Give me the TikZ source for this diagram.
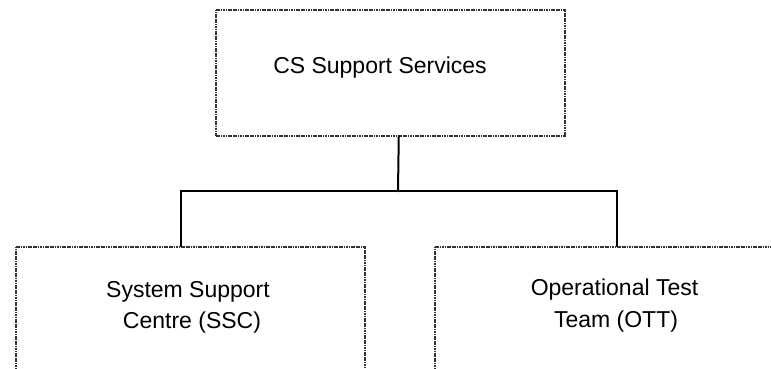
\documentclass[tikz,border=0pt]{standalone}
\usepackage{fontspec}
\setmainfont{Liberation Sans}
\usetikzlibrary{calc}

\tikzset{
  unitbox/.style={draw=black!80, line width=1.5bp, dash pattern=on 1.2bp off 0.5bp,
    rectangle, inner sep=0pt, anchor=north west},
  conn/.style={draw=black, line width=2bp, line cap=rect},
  lbl/.style={anchor=base, inner sep=0pt, font=\fontsize{23bp}{28bp}\selectfont}
}

\begin{document}
\begin{tikzpicture}[x=1bp, y=-1bp]
  \useasboundingbox (0,0) rectangle (771,368);
  \clip (0,0) rectangle (771,368);

  % organisation units
  \node[unitbox, minimum width=349bp, minimum height=126bp] (top) at (215,9) {};
  \node[unitbox, minimum width=349bp, minimum height=122.6bp] (ssc) at (15,246) {};
  \node[unitbox, minimum width=349bp, minimum height=122.6bp] (ott) at (434,246) {};

  % unit names
  \node[lbl] (topname) at (380,73) {CS Support Services};
  \node[lbl] (sscname1) at (188,297) {System Support};
  \node[lbl] (sscname2) at (192,328) {Centre (SSC)};
  \node[lbl] (ottname1) at (614.5,295) {Operational Test};
  \node[lbl] (ottname2) at (616,327) {Team (OTT)};

  % reporting lines
  \coordinate (bus) at (398,191);
  \draw[conn] ([xshift=8.5bp]top.south) -- (bus);
  \draw[conn] ([xshift=-9.5bp]ssc.north) |- (bus) -| ([xshift=7.5bp]ott.north);
\end{tikzpicture}
\end{document}
